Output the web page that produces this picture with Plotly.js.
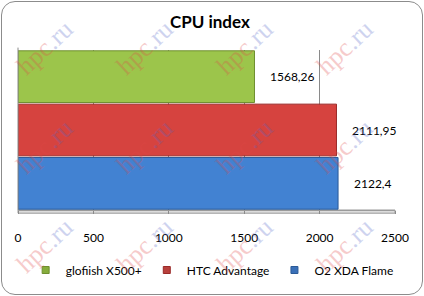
<!DOCTYPE html>
<html>
<head>
<meta charset="utf-8">
<script src="https://cdn.plot.ly/plotly-3.0.1.min.js"></script>
<style>
  html, body { margin: 0; padding: 0; background: #fff; }
  #chart { position: absolute; left: 0; top: 0; width: 424px; height: 296px; }
  #frame { position: absolute; left: 1px; top: 1px; width: 420px; height: 292px;
           border: 1px solid #8c8c8c; border-radius: 14px; pointer-events: none; }
  .wm { position: absolute; font-family: "Liberation Serif", serif; font-size: 26px;
        line-height: 1; white-space: nowrap; opacity: 0.28; pointer-events: none;
        transform: translate(-50%, -50%) rotate(-43deg); }
  .wm .a { color: #e04848; } .wm .b { color: #5466c8; }
</style>
</head>
<body>
<div id="chart"></div>
<div id="marks"></div>
<div id="frame"></div>
<script>
const seriesNames = ["glofiish X500+", "HTC Advantage", "O2 XDA Flame"];
const seriesValues = [1568.26, 2111.95, 2122.4];
const valueLabels = ["1568,26", "2111,95", "2122,4"];
const seriesColors = ["#9cc54b", "#d6433f", "#4282d2"];
const edgeColors = ["#6f8f30", "#9a2a28", "#2b5a98"];
const legendColors = ["#86ad3c", "#b8403c", "#3a70b8"];
const xTicks = [0, 500, 1000, 1500, 2000, 2500];

const traces = seriesNames.map((name, i) => ({
  type: "bar",
  orientation: "h",
  name: name,
  x: [seriesValues[i]],
  y: [name],
  marker: { color: seriesColors[i], line: { color: edgeColors[i], width: 1 } },
  showlegend: false,
  hoverinfo: "skip"
}));

// legend entries with small square swatches
seriesNames.forEach((name, i) => {
  traces.push({
    type: "scatter", mode: "markers", name: name,
    x: [null], y: [null],
    marker: { symbol: "square", size: 7, color: legendColors[i], line: { color: edgeColors[i], width: 1 } },
    showlegend: true, hoverinfo: "skip"
  });
});

const annotations = seriesNames.map((name, i) => ({
  x: seriesValues[i], y: name, xref: "x", yref: "y",
  text: valueLabels[i], showarrow: false, xanchor: "left", xshift: 14,
  font: { family: "Lato, sans-serif", size: 12, color: "#000" }
}));

const layout = {
  width: 424, height: 296,
  margin: { l: 18, r: 29, t: 50, b: 80 },
  paper_bgcolor: "rgba(0,0,0,0)", plot_bgcolor: "#fff",
  title: { text: "<b>CPU index</b>", x: 0.495, xanchor: "center", y: 0.925, yanchor: "middle",
           font: { family: "Lato, sans-serif", size: 17, color: "#000" } },
  barmode: "overlay",
  bargap: 0.03,
  showlegend: true,
  legend: { orientation: "h", x: 0.515, xanchor: "center", y: -0.375, yanchor: "middle",
            font: { family: "Lato, sans-serif", size: 12, color: "#000" },
            itemwidth: 30, tracegroupgap: 0 },
  xaxis: {
    range: [0, 2500], tickvals: xTicks, ticktext: xTicks.map(String),
    showgrid: true, gridcolor: "#8a8a8a", gridwidth: 1, zeroline: false,
    showline: true, linecolor: "#9a9a9a", linewidth: 1,
    ticks: "outside", ticklen: 3, tickcolor: "#8a8a8a",
    ticklabelstandoff: 14,
    tickfont: { family: "Lato, sans-serif", size: 12, color: "#000" },
    fixedrange: true
  },
  yaxis: {
    type: "category", categoryorder: "array", categoryarray: seriesNames,
    autorange: "reversed", showticklabels: false, showgrid: false, zeroline: false,
    showline: false, fixedrange: true
  },
  shapes: [
    { type: "rect", xref: "paper", yref: "paper", x0: 0, x1: 1, y0: -0.02, y1: 0,
      fillcolor: "#dcdcdc", line: { color: "#9a9a9a", width: 1 }, layer: "below" },
    { type: "line", xref: "paper", yref: "paper", x0: 0, x1: 0, y0: 0, y1: 1.015,
      line: { color: "#8a8a8a", width: 1 } }
  ],
  annotations: annotations
};

Plotly.newPlot("chart", traces, layout, { displayModeBar: false, staticPlot: true });

// decorative watermark
const marks = document.getElementById("marks");
[48, 147, 246].forEach(py => {
  [45, 145, 245, 345].forEach(px => {
    const s = document.createElement("div");
    s.className = "wm";
    s.style.left = px + "px"; s.style.top = py + "px";
    s.innerHTML = '<span class="a">hpc</span><span class="b">.ru</span>';
    marks.appendChild(s);
  });
});
</script>
</body>
</html>
